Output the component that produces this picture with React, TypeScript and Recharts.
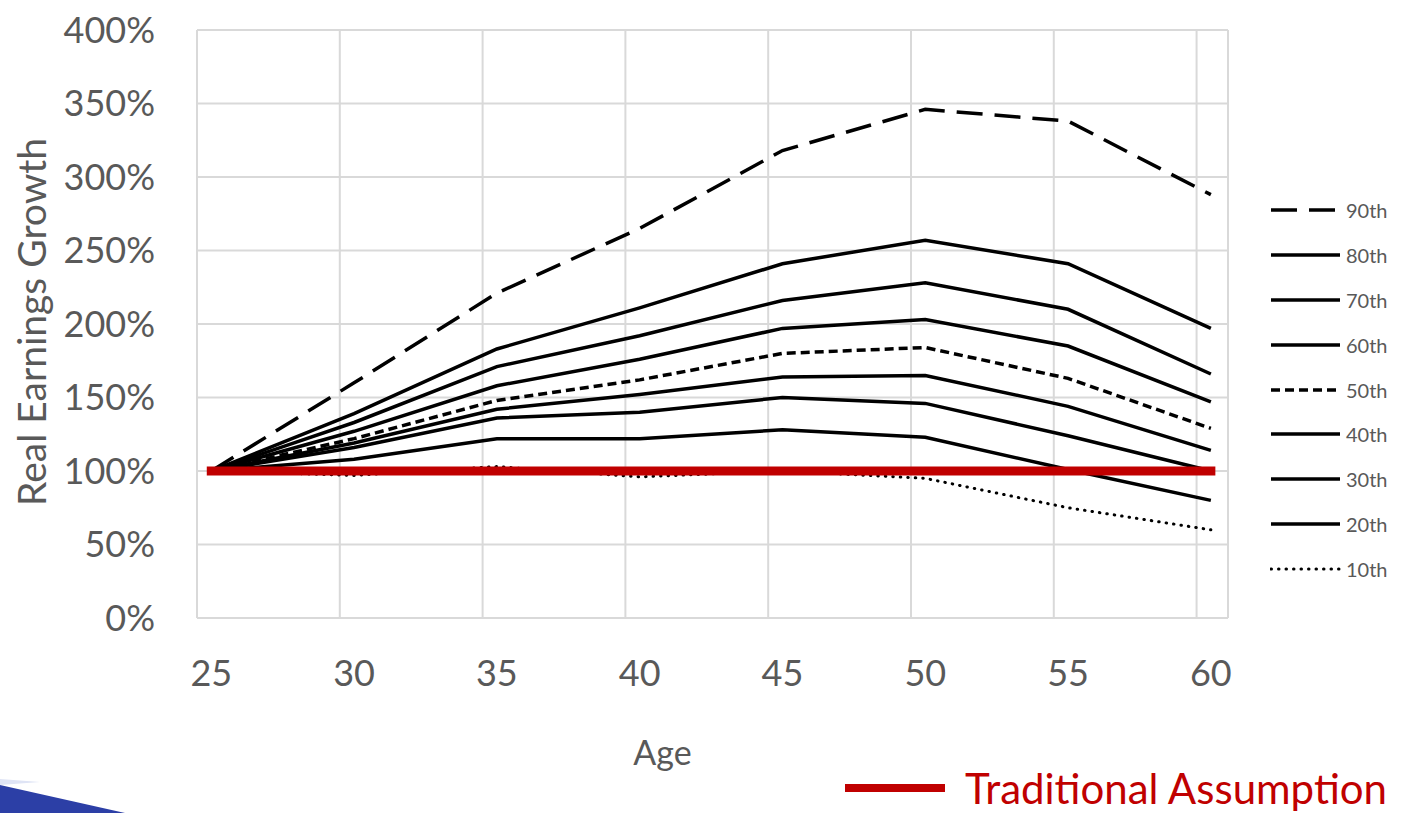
import React from "react";
import {
  LineChart,
  Line,
  XAxis,
  YAxis,
  CartesianGrid,
  ReferenceLine,
} from "recharts";

const ages = [25, 30, 35, 40, 45, 50, 55, 60];
const p90 = [100, 160, 221, 265, 318, 346, 338, 288];
const p80 = [100, 139, 183, 211, 241, 257, 241, 197];
const p70 = [100, 133, 171, 192, 216, 228, 210, 166];
const p60 = [100, 127, 158, 176, 197, 203, 185, 147];
const p50 = [100, 122, 148, 162, 180, 184, 163, 129];
const p40 = [100, 119, 142, 152, 164, 165, 144, 114];
const p30 = [100, 116, 136, 140, 150, 146, 124, 100];
const p20 = [100, 108, 122, 122, 128, 123, 101, 80];
const p10 = [100, 97, 103, 96, 100, 95, 75, 60];
const traditional = [100, 100, 100, 100, 100, 100, 100, 100];

const yTicks = [0, 50, 100, 150, 200, 250, 300, 350, 400];
// Excel draws the vertical gridlines half a year left of each label
const gridAges = [24.5, 29.5, 34.5, 39.5, 44.5, 49.5, 54.5, 59.5, 60.6];

const series = [
  { key: "p90", name: "90th", values: p90, dash: "26 12", cap: "butt" },
  { key: "p80", name: "80th", values: p80, dash: undefined, cap: "butt" },
  { key: "p70", name: "70th", values: p70, dash: undefined, cap: "butt" },
  { key: "p60", name: "60th", values: p60, dash: undefined, cap: "butt" },
  { key: "p50", name: "50th", values: p50, dash: "9 5", cap: "butt" },
  { key: "p40", name: "40th", values: p40, dash: undefined, cap: "butt" },
  { key: "p30", name: "30th", values: p30, dash: undefined, cap: "butt" },
  { key: "p20", name: "20th", values: p20, dash: undefined, cap: "butt" },
  { key: "p10", name: "10th", values: p10, dash: "0.5 7", cap: "round" },
];

const data = ages.map((age, i) => {
  const row: { [k: string]: number } = { age, traditional: traditional[i] };
  series.forEach((s) => {
    row[s.key] = s.values[i];
  });
  return row;
});

const GREY = "#595959";
const RED = "#C00000";
const FONT = "Lato, 'Open Sans', sans-serif";

const AgeLabel = (props: any) => {
  const vb = props.viewBox;
  return (
    <text
      x={vb.x + vb.width / 2 - 50}
      y={vb.y + 147}
      textAnchor="middle"
      fontSize={34}
      fill={GREY}
      fontFamily={FONT}
    >
      Age
    </text>
  );
};

const GrowthLabel = (props: any) => {
  const vb = props.viewBox;
  const cx = vb.x + 31;
  const cy = vb.y + vb.height / 2 - 2;
  return (
    <text
      x={cx}
      y={cy}
      transform={`rotate(-90 ${cx} ${cy})`}
      textAnchor="middle"
      dominantBaseline="central"
      fontSize={39}
      fill={GREY}
      fontFamily={FONT}
    >
      Real Earnings Growth
    </text>
  );
};

export default function App() {
  return (
    <div
      style={{
        position: "absolute",
        left: 0,
        top: 0,
        width: 1416,
        height: 813,
        background: "#fff",
        overflow: "hidden",
        fontFamily: FONT,
      }}
    >
      <LineChart
        width={1416}
        height={813}
        data={data}
        margin={{ top: 30, right: 188, bottom: 135, left: 0 }}
      >
        <CartesianGrid vertical={false} stroke="#d9d9d9" strokeWidth={2} />
        {gridAges.map((a) => (
          <ReferenceLine key={a} x={a} stroke="#d9d9d9" strokeWidth={2} />
        ))}
        <XAxis
          dataKey="age"
          type="number"
          domain={[24.5, 60.6]}
          ticks={ages}
          axisLine={false}
          tickLine={false}
          tickSize={0}
          tickMargin={42}
          height={60}
          tick={{ fontSize: 36, fill: GREY, fontFamily: FONT }}
          label={<AgeLabel />}
        />
        <YAxis
          type="number"
          domain={[0, 400]}
          ticks={yTicks}
          width={197}
          axisLine={false}
          tickLine={false}
          tickSize={0}
          tickMargin={42}
          tickFormatter={(v) => `${v}%`}
          tick={{ fontSize: 36, fill: GREY, fontFamily: FONT }}
          label={<GrowthLabel />}
        />
        {series.map((s) => (
          <Line
            key={s.key}
            dataKey={s.key}
            name={s.name}
            type="linear"
            stroke="#000"
            strokeWidth={s.key === "p10" ? 3 : 3.5}
            strokeDasharray={s.dash}
            strokeLinecap={s.cap as any}
            dot={false}
            activeDot={false}
            isAnimationActive={false}
          />
        ))}
        <Line
          dataKey="traditional"
          name="Traditional Assumption"
          type="linear"
          stroke={RED}
          strokeWidth={9}
          strokeLinecap="square"
          dot={false}
          activeDot={false}
          isAnimationActive={false}
        />
      </LineChart>

      {/* legend for the percentile lines */}
      <div style={{ position: "absolute", left: 1270, top: 188 }}>
        {series.map((s) => (
          <div
            key={s.key}
            style={{ display: "flex", alignItems: "center", height: 44.8 }}
          >
            <svg width={72} height={10} style={{ display: "block" }}>
              <line
                x1={1}
                y1={5}
                x2={70}
                y2={5}
                stroke="#000"
                strokeWidth={s.key === "p10" ? 3 : 3.5}
                strokeDasharray={s.dash}
                strokeLinecap={s.cap as any}
              />
            </svg>
            <span style={{ marginLeft: 4, fontSize: 20, color: GREY }}>
              {s.name}
            </span>
          </div>
        ))}
      </div>

      {/* slide legend for the red line */}
      <div
        style={{
          position: "absolute",
          left: 845,
          top: 766,
          display: "flex",
          alignItems: "center",
          height: 44,
        }}
      >
        <div style={{ width: 100, height: 8, background: RED }} />
        <span
          style={{
            marginLeft: 20,
            fontSize: 42,
            color: RED,
            lineHeight: 1.05,
            whiteSpace: "nowrap",
          }}
        >
          Traditional Assumption
        </span>
      </div>

      <svg
        width={140}
        height={40}
        style={{ position: "absolute", left: 0, top: 773 }}
      >
        <path d="M0,12 L125,40 L0,40 Z" fill="#2c3fa6" />
        <path d="M0,6 L40,9 L0,12 Z" fill="#dfe4f5" />
      </svg>
    </div>
  );
}
